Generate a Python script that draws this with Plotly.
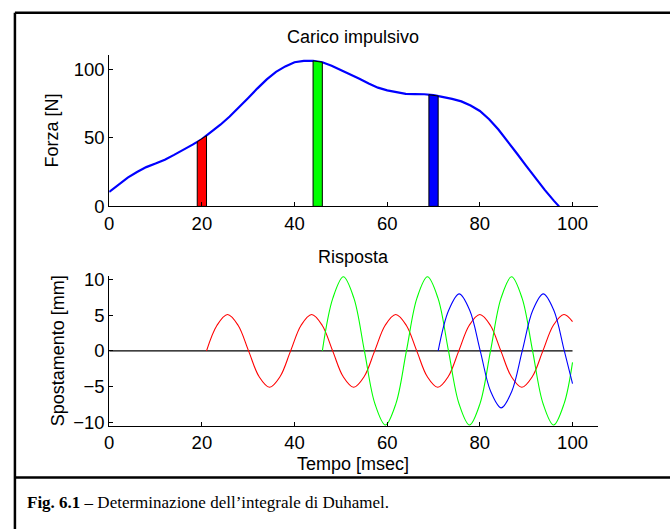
import numpy as np
import plotly.graph_objects as go

# ---------------- data ----------------
force_t = [0, 2, 4, 6, 8, 10, 12, 14, 16, 18, 20, 22, 24, 26, 28, 30, 32, 34, 36, 38,
           40, 42, 44, 46, 48, 50, 52, 54, 56, 58, 60, 62, 64, 66, 68, 70, 72, 74, 76,
           78, 80, 82, 84, 86, 88, 90, 92, 94, 96, 97.1]
force_f = [10.5, 16, 21, 25, 28.6, 31.2, 34, 37.5, 41, 45, 49, 54, 59.5, 65.5, 72, 79,
           86, 92.5, 98, 102, 105, 106, 106, 105, 102.5, 99.5, 96.5, 93, 89.5, 86.5,
           84.5, 83, 82, 81.8, 81.7, 81, 79.8, 78.3, 76.5, 73.5, 69.5, 63.5, 56, 47.5,
           38.5, 29.5, 20.5, 12, 4, 0]

bar_start = [19, 44, 69]
bar_end = [21, 46, 71]
bar_colors = ["#FF0000", "#00FF00", "#0000FF"]

red_t = [21.0, 23.27, 25.54, 27.81, 30.08, 32.34, 34.61, 36.88, 39.15, 41.42, 43.69,
         45.96, 48.23, 50.49, 52.76, 55.03, 57.3, 59.57, 61.84, 64.11, 66.38, 68.64,
         70.91, 73.18, 75.45, 77.72, 79.99, 82.26, 84.53, 86.79, 89.06, 91.33, 93.6,
         95.87, 98.14, 100.0]
red_y = [0, 3.6, 5.1, 3.6, 0, -3.6, -5.1, -3.6, 0, 3.6, 5.1,
         3.6, 0, -3.6, -5.1, -3.6, 0, 3.6, 5.1, 3.6, 0, -3.6,
         -5.1, -3.6, 0, 3.6, 5.1, 3.6, 0, -3.6, -5.1, -3.6, 0,
         3.6, 5.1, 4.1]

green_t = [46.0, 48.27, 50.54, 52.81, 55.08, 57.34, 59.61, 61.88, 64.15, 66.42, 68.69,
           70.96, 73.23, 75.49, 77.76, 80.03, 82.3, 84.57, 86.84, 89.11, 91.38, 93.64,
           95.91, 98.18, 100.0]
green_y = [0, 7.4, 10.4, 7.4, 0, -7.4, -10.4, -7.4, 0, 7.4, 10.4,
           7.4, 0, -7.4, -10.4, -7.4, 0, 7.4, 10.4, 7.4, 0, -7.4,
           -10.4, -7.4, -1.6]

blue_t = [71.0, 73.27, 75.54, 77.81, 80.08, 82.34, 84.61, 86.88, 89.15, 91.42, 93.69,
          95.96, 98.23, 100.0]
blue_y = [0, 5.7, 8.0, 5.7, 0, -5.7, -8.0, -5.7, 0, 5.7, 8.0, 5.7, 0, -4.6]

zero_t = [0, 100]
zero_y = [0, 0]

x_ticks = [0, 20, 40, 60, 80, 100]
f_ticks = [0, 50, 100]
d_ticks = [-10, -5, 0, 5, 10]

# ---------------- figure ----------------
W, H = 670, 529
def px(p):
    return p / W
def py(p):
    return 1 - p / H

fig = go.Figure()

fig.add_trace(go.Scatter(x=force_t, y=force_f, mode="lines",
                         line=dict(color="#0000FF", width=2.2),
                         xaxis="x", yaxis="y", hoverinfo="skip"))

for s, e, c in zip(bar_start, bar_end, bar_colors):
    ts = np.interp(s, force_t, force_f)
    te = np.interp(e, force_t, force_f)
    fig.add_trace(go.Scatter(x=[s, s, e, e, s], y=[0, ts, te, 0, 0], mode="lines",
                             fill="toself", fillcolor=c,
                             line=dict(color="black", width=1),
                             xaxis="x", yaxis="y", hoverinfo="skip"))

fig.add_trace(go.Scatter(x=zero_t, y=zero_y, mode="lines",
                         line=dict(color="black", width=1.2),
                         xaxis="x2", yaxis="y2", hoverinfo="skip"))
for tt, yy, c in [(red_t, red_y, "#FF0000"), (green_t, green_y, "#00FF00"),
                  (blue_t, blue_y, "#0000FF")]:
    fig.add_trace(go.Scatter(x=tt, y=yy, mode="lines",
                             line=dict(color=c, width=1.1, shape="spline", smoothing=1.0),
                             xaxis="x2", yaxis="y2", hoverinfo="skip"))

axis_common = dict(showline=True, linecolor="black", linewidth=1, mirror=False,
                   ticks="inside", ticklen=4, tickcolor="black", tickwidth=1,
                   showgrid=False, zeroline=False,
                   tickfont=dict(family="Liberation Sans, Arial", size=18.5, color="black"))

fig.update_layout(
    width=W, height=H, margin=dict(l=0, r=0, t=0, b=0), autosize=False,
    paper_bgcolor="white", plot_bgcolor="white", showlegend=False,
    xaxis=dict(domain=[px(105), px(597)], range=[0, 105.4], tickvals=x_ticks,
               anchor="y", **axis_common),
    yaxis=dict(domain=[py(206), py(50)], range=[0, 110], tickvals=f_ticks,
               anchor="x", **axis_common),
    xaxis2=dict(domain=[px(105), px(597)], range=[0, 105.4], tickvals=x_ticks,
                anchor="y2", **axis_common),
    yaxis2=dict(domain=[py(433), py(278)], range=[-10.55, 10.5], tickvals=d_ticks,
                anchor="x2", **axis_common),
)

lab_font = dict(family="Liberation Sans, Arial", size=18, color="black")
annots = [
    dict(text="Carico impulsivo", x=px(351), y=py(31)),
    dict(text="Risposta", x=px(351), y=py(258)),
    dict(text="Tempo [msec]", x=px(351), y=py(472)),
    dict(text="Forza [N]", x=px(47), y=py(128), textangle=-90),
    dict(text="Spostamento [mm]", x=px(53), y=py(355), textangle=-90),
]
for a in annots:
    fig.add_annotation(xref="paper", yref="paper", showarrow=False,
                       xanchor="center", yanchor="middle", font=lab_font, **a)

fig.add_annotation(xref="paper", yref="paper", showarrow=False,
                   x=px(20), y=py(512), xanchor="left", yanchor="middle",
                   text="<b>Fig. 6.1</b> – Determinazione dell’integrale di Duhamel.",
                   font=dict(family="Liberation Serif, Times New Roman", size=17, color="black"))

# frame (open on the right side)
frame = dict(color="black", width=2.5)
fig.add_shape(type="line", xref="paper", yref="paper",
              x0=px(10), x1=1.3, y0=py(6), y1=py(6), line=frame)
fig.add_shape(type="line", xref="paper", yref="paper",
              x0=px(10), x1=1.3, y0=py(486), y1=py(486), line=frame)
fig.add_shape(type="line", xref="paper", yref="paper",
              x0=px(10), x1=px(10), y0=py(6), y1=-0.3, line=frame)

fig.write_html(
    "out.html",
    config={"displayModeBar": False, "responsive": False},
    post_script=("document.documentElement.style.margin='0';"
                 "document.documentElement.style.overflow='hidden';"
                 "document.body.style.margin='0';"
                 "document.body.style.overflow='hidden';"),
)
